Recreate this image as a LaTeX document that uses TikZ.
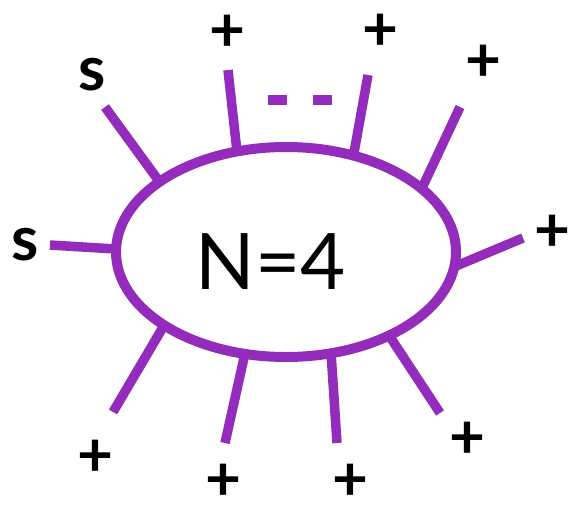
\documentclass[tikz,border=0pt]{standalone}
\usepackage{fontspec}
\setmainfont{Lato}
\usetikzlibrary{shapes.geometric, positioning, calc}
\definecolor{legpurple}{RGB}{147,44,188}

\tikzset{
  leg/.style={draw=legpurple, line width=9.5pt, line cap=butt},
  legtag/.style={font=\bfseries\fontsize{62}{62}\selectfont, text=black, inner sep=0pt},
}

\begin{document}
\begin{tikzpicture}[x=1pt, y=-1pt]
  \useasboundingbox (0,0) rectangle (569,509);

  \node[ellipse, draw=legpurple, line width=10pt, outer sep=0pt,
        minimum width=340pt, minimum height=210pt,
        font=\fontsize{78}{78}\selectfont] (core) at (286,252) {};
  \node[inner sep=0pt, font=\fontsize{78}{78}\selectfont] (nlabel) at (271,262) {N=4};

  % legs sticking out of the blob
  \foreach \i/\ang/\tip/\lab/\txt in {
      1/151.5/{105,107}/{92,75}/s,
      2/179/{50,245}/{25,245}/s,
      3/116.6/{228,70}/{227,33}/+,
      4/55.9/{368,75}/{380,32}/+,
      5/25.9/{460,107}/{483,63}/+,
      6/-5.4/{523,238}/{552,233}/+,
      7/-39.4/{440,413}/{467,440}/+,
      8/-66.5/{337,443}/{350,482}/+,
      9/-112.5/{225,443}/{223,482}/+,
      10/-149.5/{113,412}/{95,458}/+}{
    \coordinate (end\i) at (\tip);
    \node[legtag] (tag\i) at (\lab) {\txt};
    \draw[leg] (core.\ang) -- (end\i);
  }

  % the gap between the top legs
  \coordinate (gapL) at (268,100);
  \coordinate (gapR) at (333,100);
  \draw[leg, line width=10pt, dash pattern=on 19pt off 26pt] (gapL) -- (gapR);
\end{tikzpicture}
\end{document}
